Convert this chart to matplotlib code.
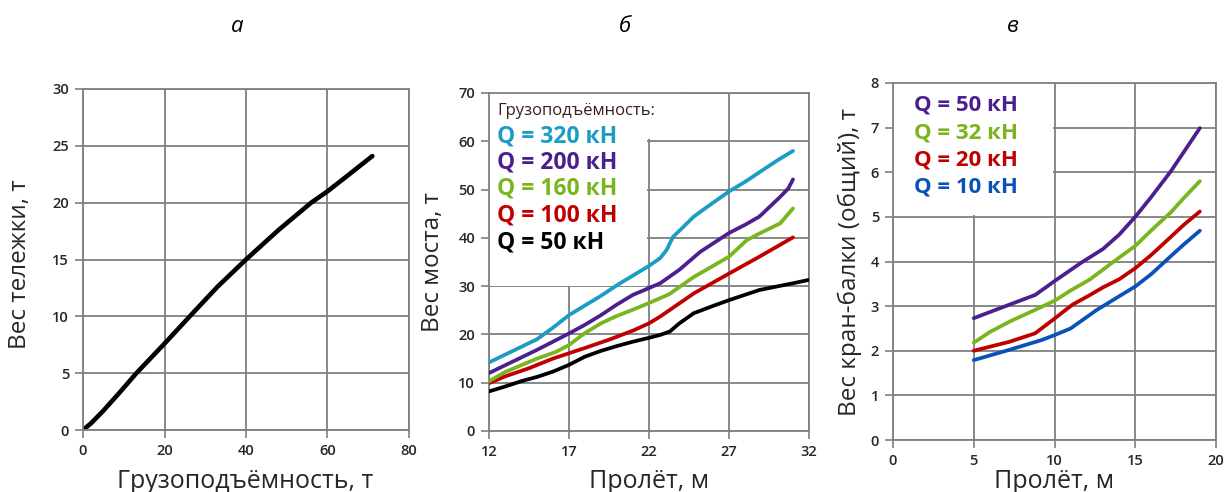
import numpy as np
import matplotlib.pyplot as plt
from matplotlib.patches import Rectangle

plt.rcParams['font.family'] = ['Open Sans', 'DejaVu Sans']

# (а) trolley weight vs capacity
cap_t = [0, 2, 5, 9, 13.1, 20, 26.2, 33, 40, 48, 56, 60, 65, 71]
trolley_t = [0, 0.6, 1.7, 3.3, 5.0, 7.6, 10.0, 12.6, 15.0, 17.6, 20.0, 21.0, 22.4, 24.1]

# (б) bridge weight vs span
span_320 = [12, 13, 14, 15, 15.5, 16, 17, 18, 19, 20, 21, 22, 22.7, 23.1, 23.5, 24, 24.8, 25.8, 27, 28, 29, 30, 31]
bridge_320 = [14.2, 15.8, 17.4, 19, 20.2, 21.4, 24, 26, 28, 30.2, 32.2, 34.2, 35.8, 37.5, 40.2, 41.8, 44.4, 46.8, 49.6, 51.6, 53.8, 56, 58]
span_200 = [12, 13, 14, 15, 16, 17, 18, 19, 20, 21, 22, 22.7, 23.9, 25.2, 27, 28, 28.9, 30.2, 30.7, 31]
bridge_200 = [12, 13.6, 15.2, 16.8, 18.5, 20.2, 22, 24, 26.2, 28.2, 29.6, 30.6, 33.4, 37.1, 41, 42.7, 44.4, 48.5, 50.2, 52.1]
span_160 = [12, 13, 14, 15, 16.2, 17, 18, 19, 19.9, 21.2, 22, 23.25, 24.8, 27, 28.1, 28.9, 30.2, 31]
bridge_160 = [10.3, 12.2, 13.6, 15, 16.4, 17.8, 20.3, 22.3, 23.7, 25.4, 26.5, 28.3, 31.9, 36.1, 39.5, 40.9, 43, 46.1]
span_100 = [12, 13, 14.5, 16, 17, 18, 19.5, 21, 22, 22.7, 24.8, 27, 28.9, 31]
bridge_100 = [9.9, 11.3, 13, 15, 16.1, 17.2, 18.9, 20.8, 22.3, 23.7, 28.5, 32.6, 36.1, 40.1]
span_50 = [12, 13, 14, 15, 16, 17, 18, 19, 20, 21, 22, 22.7, 23.3, 23.9, 24.8, 26, 27, 28.9, 31, 32]
bridge_50 = [8.2, 9.2, 10.3, 11.2, 12.3, 13.7, 15.4, 16.6, 17.6, 18.5, 19.3, 19.9, 20.6, 22.3, 24.4, 25.9, 27.1, 29.2, 30.6, 31.3]

# (в) crane beam total weight vs span
beam_x50 = [5, 6.6, 8.8, 10, 11.6, 13, 14, 15, 16, 17.2, 18, 19]
beam_y50 = [2.73, 2.95, 3.25, 3.56, 3.96, 4.28, 4.6, 5.0, 5.45, 6.02, 6.45, 6.99]
beam_x32 = [5, 6, 7.2, 9, 10, 11, 12.2, 13.6, 15, 16, 17.2, 18, 19]
beam_y32 = [2.18, 2.42, 2.65, 2.95, 3.12, 3.35, 3.6, 3.98, 4.35, 4.7, 5.1, 5.42, 5.8]
beam_x20 = [5, 7.2, 8.8, 10, 11.1, 12.2, 13, 14, 15, 16, 17.2, 18, 19]
beam_y20 = [2.0, 2.2, 2.39, 2.72, 3.03, 3.25, 3.42, 3.6, 3.85, 4.15, 4.55, 4.82, 5.12]
beam_x10 = [5, 7.2, 9.2, 10, 11, 12.6, 14, 15, 16, 17.2, 18, 19]
beam_y10 = [1.79, 2.02, 2.24, 2.35, 2.5, 2.91, 3.22, 3.44, 3.72, 4.12, 4.38, 4.69]

CYAN = '#1b9cc3'
PURPLE = '#4c1f8e'
GREEN = '#79b51c'
RED = '#c00000'
BLUE = '#0b52b8'
GRID = '#7f7f7f'
TXT = '#262626'

W, H = 1226, 492
fig = plt.figure(figsize=(W / 100, H / 100), dpi=100)


def px_axes(l, t, r, b):
    return fig.add_axes([l / W, 1 - b / H, (r - l) / W, (b - t) / H])


def style(ax, xt, yt):
    ax.set_xticks(xt)
    ax.set_yticks(yt)
    ax.set_xlim(xt[0], xt[-1])
    ax.set_ylim(yt[0], yt[-1])
    ax.set_axisbelow(True)
    ax.grid(True, color=GRID, lw=1.3)
    for s in ax.spines.values():
        s.set_color(GRID)
        s.set_linewidth(1.3)
    ax.tick_params(direction='out', length=6, width=1.2, color=GRID,
                   labelsize=10.5, labelcolor=TXT, pad=4)
    for lbl in ax.get_xticklabels() + ax.get_yticklabels():
        lbl.set_fontweight('semibold')


def ftext(x, y, s, **kw):
    fig.text(x / W, 1 - y / H, s, **kw)


# а
ax1 = px_axes(83, 89, 409, 430)
style(ax1, [0, 20, 40, 60, 80], [0, 5, 10, 15, 20, 25, 30])
ax1.plot(cap_t, trolley_t, color='black', lw=3.3, solid_capstyle='round')

# б
ax2 = px_axes(489, 93, 809, 431)
style(ax2, [12, 17, 22, 27, 32], [0, 10, 20, 30, 40, 50, 60, 70])
ax2.add_patch(Rectangle((12, 30.1), 9.9, 39.9, fc='white', ec='none', zorder=1))
ax2.add_patch(Rectangle((12, 60.4), 12, 9.6, fc='white', ec='none', zorder=1))
for xs, ys, c in [(span_50, bridge_50, 'black'), (span_100, bridge_100, RED),
                  (span_160, bridge_160, GREEN), (span_200, bridge_200, PURPLE),
                  (span_320, bridge_320, CYAN)]:
    ax2.plot(xs, ys, color=c, lw=2.7, solid_capstyle='round', solid_joinstyle='round', zorder=3)

# в
ax3 = px_axes(893, 83, 1216, 440)
style(ax3, [0, 5, 10, 15, 20], [0, 1, 2, 3, 4, 5, 6, 7, 8])
ax3.add_patch(Rectangle((0, 5.04), 9.93, 2.96, fc='white', ec='none', zorder=1))
for xs, ys, c in [(beam_x10, beam_y10, BLUE), (beam_x20, beam_y20, RED),
                  (beam_x32, beam_y32, GREEN), (beam_x50, beam_y50, PURPLE)]:
    ax3.plot(xs, ys, color=c, lw=2.7, solid_capstyle='round', solid_joinstyle='round', zorder=3)

# panel letters
for x, s in [(237, 'а'), (625, 'б'), (1013, 'в')]:
    ftext(x, 27, s, fontsize=16, style='italic', ha='center', va='center', color='black')

# axis titles
ftext(20, 264, 'Вес тележки, т', fontsize=17.5, rotation=90, ha='center', va='center', color=TXT)
ftext(245, 481, 'Грузоподъёмность, т', fontsize=18, ha='center', va='center', color=TXT)
ftext(433, 262, 'Вес моста, т', fontsize=17.5, rotation=90, ha='center', va='center', color=TXT)
ftext(649, 481, 'Пролёт, м', fontsize=18, ha='center', va='center', color=TXT)
ftext(850, 262, 'Вес кран-балки (общий), т', fontsize=17.5, rotation=90, ha='center', va='center', color=TXT)
ftext(1054, 481, 'Пролёт, м', fontsize=18, ha='center', va='center', color=TXT)

# series captions
ftext(497, 111, 'Грузоподъёмность:', fontsize=12, ha='left', va='center', color='#3a1f1f')
labels_b = [('Q = 320 кН', CYAN), ('Q = 200 кН', PURPLE), ('Q = 160 кН', GREEN),
            ('Q = 100 кН', RED), ('Q = 50 кН', 'black')]
for i, (s, c) in enumerate(labels_b):
    ftext(497, 136 + i * 26.5, s, fontsize=16.5, fontweight='bold', ha='left', va='center', color=c)

labels_c = [('Q = 50 кН', PURPLE), ('Q = 32 кН', GREEN), ('Q = 20 кН', RED), ('Q = 10 кН', BLUE)]
for i, (s, c) in enumerate(labels_c):
    ftext(914, 105 + i * 27.5, s, fontsize=16, fontweight='bold', ha='left', va='center', color=c)

fig.savefig('out.png', dpi=100, facecolor='white')
